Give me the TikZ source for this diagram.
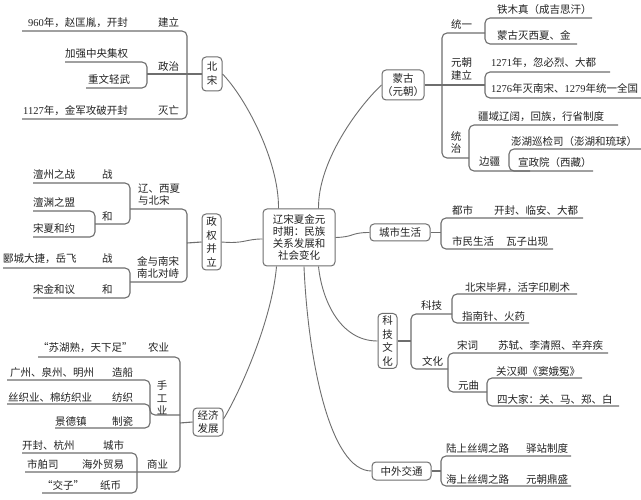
\documentclass[tikz,border=0pt]{standalone}
\usepackage{fontspec}
\setmainfont{Noto Sans CJK SC}
\newfontfamily\lat{Liberation Serif}
\usetikzlibrary{calc}
\definecolor{linec}{HTML}{6E6E6E}
\definecolor{txtc}{HTML}{222222}
\newcommand\mylbl[4]{\node[lbl] (#1) at (#2,#3) {#4};}
\begin{document}
\begin{tikzpicture}[x=1pt,y=-1pt,
  lbl/.style={anchor=base west,inner sep=0pt,text=txtc,font=\fontsize{10.5}{12}\selectfont},
  br/.style={draw=linec,line width=1.1pt,rounded corners=5pt},
  cn/.style={draw=linec,line width=0.9pt},
  box/.style={draw=linec,line width=1pt,rounded corners=4pt,fill=white,inner sep=0pt,align=center,text=txtc,font=\fontsize{10.5}{13.5}\selectfont},
  vt/.style={inner sep=0pt,align=center,text=txtc}
  ]
\fill[white] (0,0) rectangle (641,500);
\useasboundingbox (0,0) rectangle (641,500);

% ---------- boxes ----------
\node[box,minimum width=72pt,minimum height=57pt,font=\fontsize{10.5}{12.3}\selectfont] (c) at (299,237.5) {辽宋夏金元\\时期：民族\\关系发展和\\社会变化};
\node[box,minimum width=20pt,minimum height=34pt,font=\fontsize{10.5}{14}\selectfont] (bs) at (212,74) {北\\宋};
\node[box,minimum width=19pt,minimum height=56pt] (zq) at (211.5,242) {政\\权\\并\\立};
\node[box,minimum width=30pt,minimum height=28pt,font=\fontsize{10.5}{12.5}\selectfont] (jj) at (208,422) {经济\\发展};
\node[box,minimum width=42pt,minimum height=30pt,font=\fontsize{10.5}{12.5}\selectfont] (mg) at (403,85) {蒙古\\（元朝）};
\node[box,minimum width=60pt,minimum height=17pt] (cs) at (400,232.5) {城市生活};
\node[box,minimum width=19pt,minimum height=55pt] (kj) at (387.5,341) {科\\技\\文\\化};
\node[box,minimum width=59pt,minimum height=18pt] (zw) at (401.5,471) {中外交通};

% ---------- central connectors ----------
\draw[cn] (bs.east) .. controls (245,97) and (279,160) .. ($(c.north west)+(16,0)$);
\draw[cn] (mg.west) .. controls (360,105) and (318,160) .. ($(c.north east)+(-17,0)$);
\draw[cn] (zq.east) .. controls (245,244) and (245,239) .. ($(c.west)+(0,1.5)$);
\draw[cn] (c.east) .. controls (355,237) and (350,232.5) .. (cs.west);
\draw[cn] ($(c.south east)+(-17,0)$) .. controls (322,300) and (340,341) .. (kj.west);
\draw[cn] ($(c.south)+(5,0)$) .. controls (308,360) and (330,471) .. (zw.west);
\draw[cn] ($(c.south west)+(14,0)$) .. controls (272,320) and (240,392) .. ($(jj.east)+(0,-3)$);

% ---------- 北宋 ----------
\draw[br] (22,31) -- (187,31) -- (187,119) -- (22,119);
\draw[br] (65,62) -- (147,62) -- (147,88) -- (86,88);
\draw[cn,line width=1.1pt] (147,74) -- (bs.west);
\mylbl{a1}{28}{27}{{\lat 960}年，赵匡胤，开封}
\mylbl{a2}{158}{27}{建立}
\mylbl{a3}{65}{58}{加强中央集权}
\mylbl{a4}{88}{84}{重文轻武}
\mylbl{a5}{158}{71}{政治}
\mylbl{a6}{23}{115}{{\lat 1127}年，金军攻破开封}
\mylbl{a7}{158}{115}{灭亡}

% ---------- 政权并立 ----------
\draw[br] (130,209) -- (187,209) -- (187,282) -- (130,282);
\draw[cn,line width=1.1pt] (187,243) -- (zq.west);
\draw[br] (33,183) -- (130,183) -- (130,224) -- (95,224);
\draw[br] (33,211) -- (95,211) -- (95,237) -- (33,237);
\draw[br] (3,268) -- (130,268) -- (130,298) -- (33,298);
\mylbl{b1}{33}{179}{澶州之战}
\mylbl{b2}{102}{179}{战}
\mylbl{b3}{33}{207}{澶渊之盟}
\mylbl{b4}{102}{221}{和}
\mylbl{b5}{33}{233}{宋夏和约}
\mylbl{b6}{138}{193}{辽、西夏}
\mylbl{b7}{138}{205}{与北宋}
\mylbl{b8}{3}{263}{郾城大捷，岳飞}
\mylbl{b9}{102}{263}{战}
\mylbl{b10}{33}{294}{宋金和议}
\mylbl{b11}{102}{294}{和}
\mylbl{b12}{137}{266}{金与南宋}
\mylbl{b13}{137}{278}{南北对峙}

% ---------- 经济发展 ----------
\draw[br] (38,357) -- (180,357) -- (180,472) -- (25,472);
\draw[cn,line width=1.1pt] (180,423) -- (jj.west);
\draw[br] (7,380) -- (150,380) -- (150,415) -- (180,415);
\draw[br] (7,404) -- (150,404) -- (150,428) -- (55,428);
\draw[br] (22,453) -- (137,453) -- (137,493) -- (42,493);
\mylbl{c1}{38}{352}{“苏湖熟，天下足”}
\mylbl{c2}{148}{352}{农业}
\mylbl{c3}{10}{377}{广州、泉州、明州}
\mylbl{c4}{112}{377}{造船}
\mylbl{c5}{8}{401}{丝织业、棉纺织业}
\mylbl{c6}{112}{401}{纺织}
\mylbl{c7}{55}{425}{景德镇}
\mylbl{c8}{112}{425}{制瓷}
\node[vt,font=\fontsize{10.5}{12.5}\selectfont] (c9) at (162,398) {手\\工\\业};
\mylbl{c10}{22}{449}{开封、杭州}
\mylbl{c11}{103}{449}{城市}
\mylbl{c12}{27}{468}{市舶司}
\mylbl{c13}{82}{468}{海外贸易}
\mylbl{c14}{147}{468}{商业}
\mylbl{c15}{42}{489}{“交子”}
\mylbl{c16}{100}{489}{纸币}

% ---------- 蒙古（元朝） ----------
\draw[br] (485,33) -- (442,33) -- (442,158) -- (469,158);
\draw[cn,line width=1.1pt] (mg.east) -- (485,85);
\draw[br] (592,18) -- (485,18) -- (485,44) -- (577,44);
\draw[br] (610,72) -- (485,72) -- (485,98) -- (641,98);
\draw[br] (618,125) -- (469,125) -- (469,171) -- (593,171);
\draw[br] (641,149) -- (509,149) -- (509,171) -- (530,171);
\mylbl{d1}{451}{29}{统一}
\mylbl{d2}{497}{14}{铁木真（成吉思汗）}
\mylbl{d3}{497}{40}{蒙古灭西夏、金}
\mylbl{d4}{451}{67}{元朝}
\mylbl{d5}{451}{80}{建立}
\mylbl{d6}{491}{67}{{\lat 1271}年，忽必烈、大都}
\mylbl{d7}{491}{93}{{\lat 1276}年灭南宋、{\lat 1279}年统一全国}
\mylbl{d8}{478}{121}{疆域辽阔，回族，行省制度}
\node[vt,font=\fontsize{10.5}{11.5}\selectfont] (d9) at (456,142.5) {统\\治};
\mylbl{d10}{511}{146}{澎湖巡检司（澎湖和琉球）}
\mylbl{d11}{479}{166}{边疆}
\mylbl{d12}{518}{167}{宣政院（西藏）}

% ---------- 城市生活 ----------
\draw[br] (583,218) -- (441,218) -- (441,249) -- (553,249);
\draw[cn,line width=1.1pt] (cs.east) -- (441,232.5);
\mylbl{e1}{452}{215}{都市}
\mylbl{e2}{494}{215}{开封、临安、大都}
\mylbl{e3}{452}{246}{市民生活}
\mylbl{e4}{506}{246}{瓦子出现}

% ---------- 科技文化 ----------
\draw[br] (452,314) -- (411,314) -- (411,369) -- (448,369);
\draw[cn,line width=1.1pt] (kj.east) -- (411,341);
\draw[br] (577,294) -- (452,294) -- (452,323) -- (529,323);
\draw[br] (608,353) -- (448,353) -- (448,392) -- (487,392);
\draw[br] (582,378) -- (487,378) -- (487,406) -- (619,406);
\mylbl{f1}{421}{309}{科技}
\mylbl{f2}{465}{291}{北宋毕昇，活字印刷术}
\mylbl{f3}{462}{320}{指南针、火药}
\mylbl{f4}{457}{349}{宋词}
\mylbl{f5}{498}{349}{苏轼、李清照、辛弃疾}
\mylbl{f6}{422}{366}{文化}
\mylbl{f7}{458}{389}{元曲}
\mylbl{f8}{496}{375}{关汉卿《窦娥冤》}
\mylbl{f9}{497}{403}{四大家：关、马、郑、白}

% ---------- 中外交通 ----------
\draw[br] (571,456) -- (441,456) -- (441,486) -- (571,486);
\draw[cn,line width=1.1pt] (zw.east) -- (441,471);
\mylbl{g1}{446}{452}{陆上丝绸之路}
\mylbl{g2}{526}{452}{驿站制度}
\mylbl{g3}{446}{483}{海上丝绸之路}
\mylbl{g4}{526}{483}{元朝鼎盛}
\end{tikzpicture}
\end{document}
